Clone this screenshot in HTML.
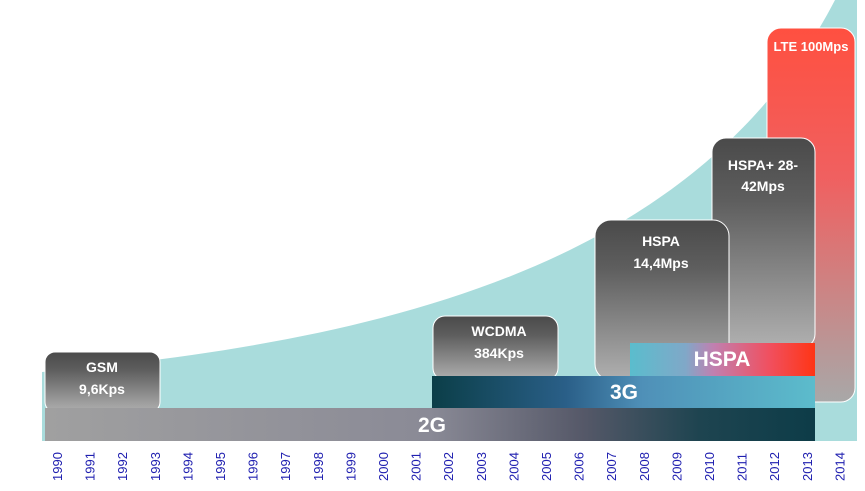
<!DOCTYPE html>
<html><head><meta charset="utf-8"><style>
body{margin:0;background:#fff;width:865px;height:486px;overflow:hidden}
svg text{font-family:"Liberation Sans",sans-serif}
</style></head><body>
<svg width="865" height="486" viewBox="0 0 865 486" xmlns="http://www.w3.org/2000/svg">
<defs>
<linearGradient id="g2" x1="0" x2="1" y1="0" y2="0"><stop offset="0" stop-color="#a0a0a0"/><stop offset="0.5" stop-color="#8a8a96"/><stop offset="0.7" stop-color="#555868"/><stop offset="0.85" stop-color="#1e4450"/><stop offset="1" stop-color="#0d3c48"/></linearGradient>
<linearGradient id="g3" x1="0" x2="1" y1="0" y2="0"><stop offset="0" stop-color="#0b3e48"/><stop offset="0.35" stop-color="#2a5f88"/><stop offset="0.55" stop-color="#4f90b8"/><stop offset="1" stop-color="#5cbccc"/></linearGradient>
<linearGradient id="gh" x1="0" x2="1" y1="0" y2="0"><stop offset="0" stop-color="#5abdcd"/><stop offset="0.3" stop-color="#80a8c8"/><stop offset="0.45" stop-color="#c080b0"/><stop offset="0.75" stop-color="#f05060"/><stop offset="1" stop-color="#ff3515"/></linearGradient>
<linearGradient id="gb" x1="0" x2="0" y1="0" y2="1"><stop offset="0" stop-color="#4a4a4a"/><stop offset="0.3" stop-color="#5e5e5e"/><stop offset="1" stop-color="#b0b0b0"/></linearGradient>
<linearGradient id="gl" x1="0" x2="0" y1="0" y2="1"><stop offset="0" stop-color="#ff5040"/><stop offset="0.4" stop-color="#f06060"/><stop offset="1" stop-color="#a8a8a8"/></linearGradient>
</defs>
<path d="M42,441 L42,372 C400,340 700,260 835,0 L857,0 L857,441 Z" fill="#a9dcdc"/>
<rect x="767" y="28" width="88" height="374" rx="14" fill="url(#gl)" stroke="#fff"/>
<rect x="712" y="138" width="103" height="210" rx="14" fill="url(#gb)" stroke="#fff"/>
<rect x="595" y="220" width="134" height="160" rx="16" fill="url(#gb)" stroke="#fff"/>
<rect x="433" y="316" width="125" height="64" rx="12" fill="url(#gb)" stroke="#fff"/>
<rect x="45" y="352" width="115" height="60" rx="10" fill="url(#gb)" stroke="#fff"/>
<rect x="630" y="343" width="185" height="33" fill="url(#gh)"/>
<rect x="432" y="376" width="383" height="32" fill="url(#g3)"/>
<rect x="45" y="408" width="770" height="33" fill="url(#g2)"/>
<g fill="#fff" font-weight="bold" text-anchor="middle">
<text x="102" y="372" font-size="14">GSM</text>
<text x="102" y="394" font-size="14">9,6Kps</text>
<text x="499" y="336" font-size="14">WCDMA</text>
<text x="499" y="358" font-size="14">384Kps</text>
<text x="661" y="246" font-size="14">HSPA</text>
<text x="661" y="268" font-size="14">14,4Mps</text>
<text x="763" y="170" font-size="14">HSPA+ 28-</text>
<text x="763" y="191" font-size="14">42Mps</text>
<text x="811" y="51" font-size="13">LTE 100Mps</text>
<text x="722" y="366" font-size="21">HSPA</text>
<text x="624" y="399" font-size="21">3G</text>
<text x="432" y="432" font-size="21">2G</text>
</g>
<g fill="#2020b0" font-size="13">
<text transform="translate(62,481) rotate(-90)">1990</text>
<text transform="translate(94.6,481) rotate(-90)">1991</text>
<text transform="translate(127.2,481) rotate(-90)">1992</text>
<text transform="translate(159.8,481) rotate(-90)">1993</text>
<text transform="translate(192.4,481) rotate(-90)">1994</text>
<text transform="translate(225,481) rotate(-90)">1995</text>
<text transform="translate(257.6,481) rotate(-90)">1996</text>
<text transform="translate(290.2,481) rotate(-90)">1997</text>
<text transform="translate(322.8,481) rotate(-90)">1998</text>
<text transform="translate(355.4,481) rotate(-90)">1999</text>
<text transform="translate(388,481) rotate(-90)">2000</text>
<text transform="translate(420.6,481) rotate(-90)">2001</text>
<text transform="translate(453.2,481) rotate(-90)">2002</text>
<text transform="translate(485.8,481) rotate(-90)">2003</text>
<text transform="translate(518.4,481) rotate(-90)">2004</text>
<text transform="translate(551,481) rotate(-90)">2005</text>
<text transform="translate(583.6,481) rotate(-90)">2006</text>
<text transform="translate(616.2,481) rotate(-90)">2007</text>
<text transform="translate(648.8,481) rotate(-90)">2008</text>
<text transform="translate(681.4,481) rotate(-90)">2009</text>
<text transform="translate(714,481) rotate(-90)">2010</text>
<text transform="translate(746.6,481) rotate(-90)">2011</text>
<text transform="translate(779.2,481) rotate(-90)">2012</text>
<text transform="translate(811.8,481) rotate(-90)">2013</text>
<text transform="translate(844.4,481) rotate(-90)">2014</text>
</g>
</svg>
</body></html>
